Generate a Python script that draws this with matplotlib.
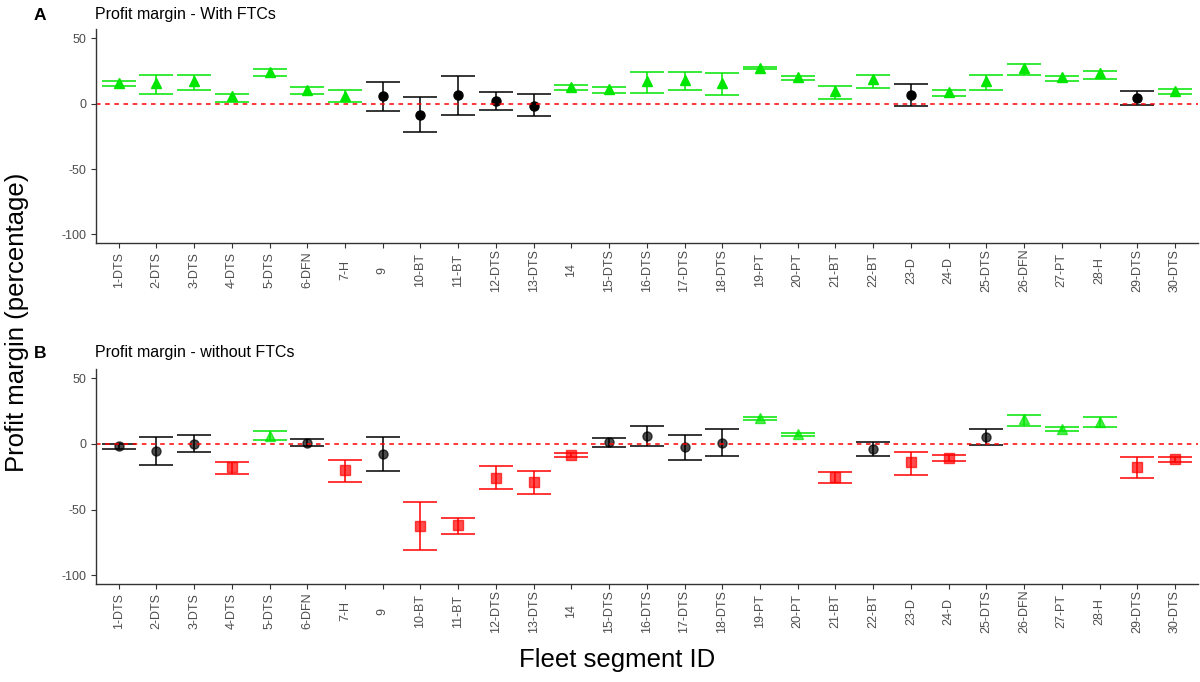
#!/usr/bin/env python3

import numpy as np
from matplotlib import pyplot as plt

plt.rcParams['font.family'] = ['Liberation Sans', 'DejaVu Sans']
plt.rcParams['axes.unicode_minus'] = False          # plain hyphen on ticks

segments = ['1-DTS', '2-DTS', '3-DTS', '4-DTS', '5-DTS', '6-DFN', '7-H', '9',
            '10-BT', '11-BT', '12-DTS', '13-DTS', '14', '15-DTS', '16-DTS',
            '17-DTS', '18-DTS', '19-PT', '20-PT', '21-BT', '22-BT', '23-D',
            '24-D', '25-DTS', '26-DFN', '27-PT', '28-H', '29-DTS', '30-DTS']

# Panel A - with FTCs (mean, lower, upper)
with_mean = [15.5, 15.5, 17.5, 5.5, 24.5, 10.5, 6.0, 5.5, -8.5, 6.5, 2.0, -1.5,
             13.0, 11.0, 17.0, 18.0, 15.5, 27.5, 20.0, 9.5, 18.5, 6.5, 8.5,
             17.0, 27.0, 20.0, 23.0, 4.5, 10.0]
with_low = [13.8, 7.4, 10.7, 1.0, 21.2, 7.4, 1.0, -5.9, -21.9, -8.4, -5.1, -9.4,
            10.7, 7.9, 8.2, 10.2, 6.4, 26.5, 18.1, 3.8, 12.2, -1.5, 6.1, 10.2,
            22.2, 17.6, 18.6, -0.8, 7.4]
with_high = [17.0, 22.0, 22.0, 7.4, 26.5, 12.8, 10.2, 16.3, 4.8, 21.4, 9.2, 7.4,
             14.5, 12.8, 24.2, 24.2, 23.2, 28.3, 21.2, 13.5, 22.2, 15.3, 10.2,
             22.2, 30.1, 21.2, 25.0, 9.9, 11.2]

# Panel B - without FTCs (mean, lower, upper)
without_mean = [-1.5, -5.3, 0.0, -17.8, 6.1, 1.0, -19.8, -7.9, -62.4, -61.9,
                -25.6, -28.9, -8.1, 1.3, 6.1, -2.5, 0.8, 19.5, 7.6, -25.4, -3.6,
                -13.7, -10.4, 5.6, 18.8, 11.7, 16.5, -17.5, -11.2]
without_low = [-4.1, -16.2, -6.1, -22.6, 2.8, -1.8, -28.7, -20.8, -80.7, -68.8,
               -34.5, -38.1, -10.2, -2.5, -1.8, -12.2, -9.4, 18.0, 5.8, -29.7,
               -9.4, -23.4, -12.9, -0.8, 14.0, 9.9, 12.9, -26.1, -14.0]
without_high = [0.3, 5.1, 6.9, -13.7, 9.6, 3.6, -12.2, 5.1, -44.4, -56.6,
                -16.5, -20.6, -6.6, 4.3, 14.0, 7.1, 11.4, 20.3, 8.4, -21.3, 1.8,
                -6.1, -8.6, 11.4, 21.8, 12.7, 20.3, -10.2, -9.9]

styles = {'pos': ('#00E600', '^'), 'zero': ('black', 'o'), 'neg': ('#FF0000', 's')}


def group(lo, hi):
    if lo > 0:
        return 'pos'
    if hi < 0:
        return 'neg'
    return 'zero'


def draw_panel(ax, mean, low, high, alpha):
    x = np.arange(1, len(segments) + 1)
    for i in range(len(segments)):
        colour, marker = styles[group(low[i], high[i])]
        ax.errorbar(x[i], mean[i],
                    yerr=[[mean[i] - low[i]], [high[i] - mean[i]]],
                    fmt='none', ecolor=colour, elinewidth=1.1, capsize=12,
                    capthick=1.1)
        ax.plot(x[i], mean[i], marker=marker, color=colour, markersize=6.5,
                linestyle='none', alpha=alpha)
    ax.axhline(0, color='#FF0000', linestyle=(0, (3, 3)), linewidth=1.1)
    ax.set_xlim(0.4, len(segments) + 0.6)
    ax.set_ylim(-106.5, 57)
    ax.set_yticks([50, 0, -50, -100])
    ax.set_xticks(x)
    ax.set_xticklabels(segments, rotation=90, va='center')
    for spine in ['top', 'right']:
        ax.spines[spine].set_visible(False)
    for spine in ['left', 'bottom']:
        ax.spines[spine].set_linewidth(1.0)
        ax.spines[spine].set_color('#333333')
    ax.tick_params(axis='x', colors='#333333', labelcolor='#4D4D4D',
                   labelsize=9, length=3.5, pad=16)
    ax.tick_params(axis='y', colors='#333333', labelcolor='#4D4D4D',
                   labelsize=9, length=3.5)


fig = plt.figure(figsize=(12, 6.82), dpi=100)
ax_a = fig.add_axes([0.08, 0.6437, 0.918, 0.3138])
ax_b = fig.add_axes([0.08, 0.1437, 0.918, 0.3153])

draw_panel(ax_a, with_mean, with_low, with_high, 1.0)
draw_panel(ax_b, without_mean, without_low, without_high, 0.7)

fig.text(0.028, 1 - 15 / 682, 'A', fontsize=12.5, fontweight='bold', va='center')
fig.text(0.079, 1 - 15 / 682, 'Profit margin - With FTCs', fontsize=11.5,
         va='center')
fig.text(0.028, 1 - 353 / 682, 'B', fontsize=12.5, fontweight='bold', va='center')
fig.text(0.079, 1 - 353 / 682, 'Profit margin - without FTCs', fontsize=11.5,
         va='center')
fig.text(0.014, 1 - 322 / 682, 'Profit margin (percentage)', fontsize=18.5,
         rotation=90, va='center', ha='center')
fig.text(0.514, 1 - 660 / 682, 'Fleet segment ID', fontsize=18.5, ha='center',
         va='center')

plt.savefig('out.png', dpi=100)
